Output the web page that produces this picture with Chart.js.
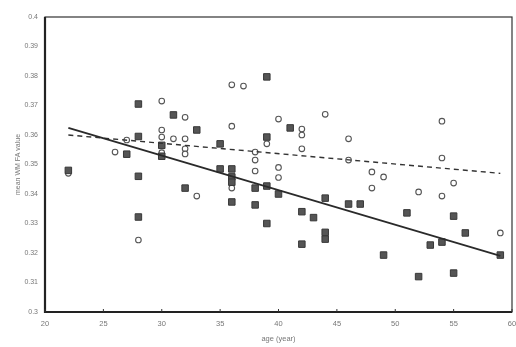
<!DOCTYPE html>
<html>
<head>
<meta charset="utf-8">
<script src="https://cdn.jsdelivr.net/npm/chart.js@4.4.0/dist/chart.umd.min.js"></script>
<style>
html,body{margin:0;padding:0;background:#fff;}
#wrap{width:516px;height:347px;position:relative;}
</style>
</head>
<body>
<div id="wrap"><canvas id="c" width="516" height="347"></canvas></div>
<script>
// Filled squares (group 1): age and mean WM FA value
const squareAge = [22,27,28,28,28,28,30,30,31,32,33,35,35,36,36,36,36,38,38,39,39,39,39,40,41,42,42,43,44,44,44,46,47,49,51,52,53,54,55,55,56,59];
const squareFA  = [0.348,0.3535,0.3705,0.3595,0.346,0.3322,0.3565,0.3528,0.3668,0.342,0.3617,0.357,0.3485,0.3485,0.3458,0.3373,0.344,0.342,0.3363,0.3797,0.3593,0.3427,0.330,0.340,0.3624,0.334,0.323,0.332,0.3386,0.327,0.3247,0.3366,0.3366,0.3193,0.3336,0.312,0.3227,0.3237,0.3325,0.3132,0.3268,0.3193];
// Open circles (group 2)
const circleAge = [22,26,27,28,30,30,30,30,31,32,32,32,32,33,36,36,36,37,38,38,38,39,40,40,40,42,42,42,44,46,46,48,48,49,52,54,54,54,55,59];
const circleFA  = [0.347,0.3542,0.3583,0.3244,0.3715,0.3617,0.3593,0.354,0.3587,0.366,0.3587,0.3553,0.3536,0.3393,0.377,0.363,0.342,0.3766,0.3542,0.3515,0.3478,0.357,0.3654,0.349,0.3456,0.362,0.360,0.3553,0.367,0.3587,0.3515,0.3475,0.342,0.3458,0.3407,0.3647,0.3522,0.3393,0.3437,0.3268];
// Regression lines (end points)
const solidLineAge = [22, 59];
const solidLineFA  = [0.3624, 0.319];
const dashedLineAge = [22, 59];
const dashedLineFA  = [0.360, 0.347];
// Axis ticks
const xTicks = [20,25,30,35,40,45,50,55,60];
const yTicks = [0.3,0.31,0.32,0.33,0.34,0.35,0.36,0.37,0.38,0.39,0.4];
const xTitle = 'age (year)';
const yTitle = 'mean WM FA value';

const pts = (xs, ys) => xs.map((x, i) => ({x: x, y: ys[i]}));

const frame = {
  id: 'frame',
  afterDatasetsDraw(chart) {
    const a = chart.chartArea, ctx = chart.ctx;
    ctx.save();
    ctx.strokeStyle = '#333';
    ctx.lineWidth = 1.2;
    ctx.strokeRect(a.left, a.top, a.right - a.left, a.bottom - a.top);
    ctx.lineWidth = 2.2;
    ctx.strokeStyle = '#222';
    ctx.beginPath();
    ctx.moveTo(a.left, a.top);
    ctx.lineTo(a.left, a.bottom);
    ctx.lineTo(a.right, a.bottom);
    ctx.stroke();
    // inward ticks on the x axis
    const xs = chart.scales.x;
    ctx.lineWidth = 1;
    ctx.strokeStyle = '#333';
    xTicks.forEach(v => {
      const px = xs.getPixelForValue(v);
      ctx.beginPath();
      ctx.moveTo(px, a.bottom);
      ctx.lineTo(px, a.bottom - 3);
      ctx.stroke();
    });
    ctx.restore();
  }
};

new Chart(document.getElementById('c'), {
  type: 'scatter',
  data: {
    datasets: [
      {
        type: 'line', data: pts(solidLineAge, solidLineFA),
        borderColor: '#2a2a2a', borderWidth: 1.8, pointRadius: 0, fill: false
      },
      {
        type: 'line', data: pts(dashedLineAge, dashedLineFA),
        borderColor: '#333', borderWidth: 1.4, borderDash: [5, 4], pointRadius: 0, fill: false
      },
      {
        data: pts(squareAge, squareFA),
        pointStyle: 'rect', pointRadius: 4.6,
        backgroundColor: '#555', borderColor: '#383838', borderWidth: 1
      },
      {
        data: pts(circleAge, circleFA),
        pointStyle: 'circle', pointRadius: 2.8,
        backgroundColor: '#ffffff', borderColor: '#555', borderWidth: 1.1
      }
    ]
  },
  options: {
    responsive: false,
    animation: false,
    events: [],
    layout: {autoPadding: false, padding: {top: 17, right: 4, left: 10, bottom: 0}},
    plugins: {legend: {display: false}, tooltip: {enabled: false}},
    scales: {
      x: {
        type: 'linear', min: 20, max: 60,
        afterBuildTicks: s => { s.ticks = xTicks.map(v => ({value: v})); },
        afterFit: s => { s.height = 35; s.paddingLeft = 0; s.paddingRight = 0; },
        grid: {display: false, drawTicks: false},
        border: {display: false},
        ticks: {
          color: '#777', padding: 7,
          font: {family: 'Liberation Sans', size: 7.5},
          callback: v => String(v)
        },
        title: {
          display: true, text: xTitle, color: '#777',
          font: {family: 'Liberation Sans', size: 7.5}, padding: {top: 1}
        }
      },
      y: {
        type: 'linear', min: 0.3, max: 0.4,
        afterBuildTicks: s => { s.ticks = yTicks.map(v => ({value: v})); },
        afterFit: s => { s.width = 35; },
        grid: {display: false, drawOnChartArea: false, drawTicks: true, tickLength: 3, color: '#333'},
        border: {display: false},
        ticks: {
          color: '#777', padding: 4,
          font: {family: 'Liberation Sans', size: 7},
          callback: v => String(Number(v.toFixed(2)))
        },
        title: {
          display: true, text: yTitle, color: '#777',
          font: {family: 'Liberation Sans', size: 7}, padding: {bottom: 0}
        }
      }
    }
  },
  plugins: [frame]
});
</script>
</body>
</html>
